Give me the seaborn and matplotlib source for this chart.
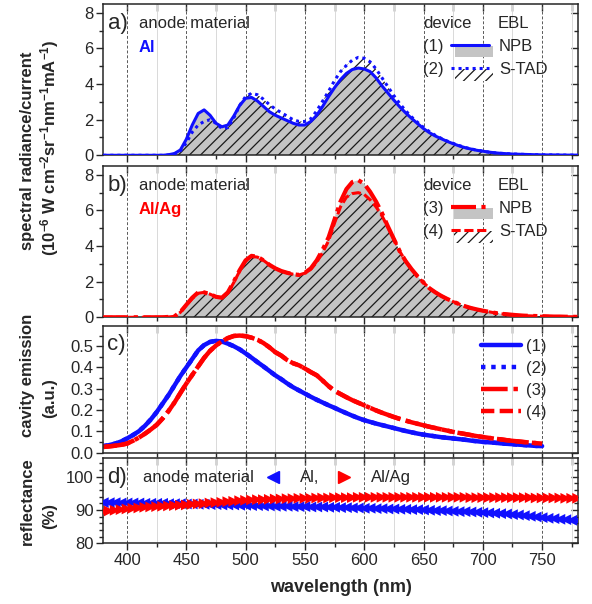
import numpy as np
import seaborn as sns
import matplotlib.pyplot as plt
from matplotlib.legend_handler import HandlerBase
from matplotlib.lines import Line2D
from matplotlib.patches import Rectangle
from matplotlib.ticker import MultipleLocator

sns.set_theme(style='ticks')
plt.rcParams['font.family'] = ['Liberation Sans', 'DejaVu Sans']
plt.rcParams['mathtext.default'] = 'regular'
plt.rcParams['hatch.linewidth'] = 0.9

# spectra, 380..780 nm in 5 nm steps
wl = np.arange(380, 781, 5)
zeros_head = [0.0] * 11  # 380-430 nm

spec_1 = zeros_head + [
    0.03, 0.1, 0.3, 0.9, 1.7, 2.35, 2.55, 2.25, 1.8, 1.6,
    1.7, 2.2, 2.8, 3.2, 3.25, 3.05, 2.75, 2.45, 2.25, 2.1,
    1.95, 1.8, 1.7, 1.7, 1.9, 2.25, 2.75, 3.3, 3.8, 4.25,
    4.6, 4.82, 4.9, 4.85, 4.7, 4.35, 3.9, 3.5, 3.1, 2.72,
    2.38, 2.07, 1.78, 1.5, 1.27, 1.08, 0.93, 0.78, 0.65, 0.53,
    0.43, 0.35, 0.28, 0.23, 0.18, 0.14, 0.11, 0.09, 0.07, 0.06,
    0.05, 0.04, 0.03, 0.025, 0.02, 0.02, 0.015, 0.01, 0.01, 0.01]
spec_2 = zeros_head + [
    0.02, 0.07, 0.25, 0.7, 1.3, 1.7, 1.9, 2.0, 1.8, 1.5,
    1.55, 2.1, 2.8, 3.3, 3.48, 3.4, 3.15, 2.85, 2.6, 2.4,
    2.2, 2.0, 1.9, 1.9, 2.05, 2.5, 3.05, 3.6, 4.2, 4.7,
    5.05, 5.35, 5.5, 5.45, 5.25, 4.85, 4.35, 3.85, 3.35, 2.9,
    2.5, 2.15, 1.85, 1.57, 1.33, 1.12, 0.95, 0.8, 0.67, 0.55,
    0.44, 0.36, 0.29, 0.23, 0.18, 0.14, 0.11, 0.09, 0.07, 0.06,
    0.05, 0.04, 0.03, 0.025, 0.02, 0.02, 0.015, 0.01, 0.01, 0.01]
spec_3 = zeros_head + [
    0.02, 0.05, 0.3, 0.7, 1.1, 1.4, 1.4, 1.3, 1.15, 1.1,
    1.4, 2.0, 2.65, 3.2, 3.45, 3.4, 3.2, 2.95, 2.75, 2.6,
    2.5, 2.42, 2.38, 2.5, 2.75, 3.2, 3.8, 4.5, 5.5, 6.5,
    7.2, 7.6, 7.7, 7.5, 7.05, 6.5, 5.85, 5.1, 4.4, 3.7,
    3.15, 2.7, 2.3, 1.95, 1.63, 1.4, 1.2, 1.03, 0.88, 0.74,
    0.62, 0.52, 0.44, 0.37, 0.31, 0.25, 0.2, 0.17, 0.14, 0.11,
    0.09, 0.08, 0.07, 0.06, 0.05, 0.04, 0.04, 0.03, 0.03, 0.02]
spec_4 = zeros_head + [
    0.02, 0.05, 0.28, 0.68, 1.05, 1.35, 1.4, 1.3, 1.15, 1.08,
    1.35, 1.95, 2.6, 3.15, 3.42, 3.38, 3.2, 2.95, 2.75, 2.6,
    2.5, 2.42, 2.38, 2.48, 2.7, 3.1, 3.65, 4.3, 5.3, 6.2,
    6.75, 6.95, 7.0, 6.9, 6.6, 6.2, 5.7, 5.05, 4.4, 3.7,
    3.15, 2.7, 2.3, 1.95, 1.63, 1.4, 1.2, 1.03, 0.88, 0.74,
    0.62, 0.52, 0.44, 0.37, 0.31, 0.25, 0.2, 0.17, 0.14, 0.11,
    0.09, 0.08, 0.07, 0.06, 0.05, 0.04, 0.04, 0.03, 0.03, 0.02]

# cavity emission, 380..750 nm
wl_cav = np.arange(380, 751, 5)
cav_al = [
    0.030, 0.035, 0.042, 0.052, 0.066, 0.082, 0.100, 0.125, 0.155, 0.190,
    0.230, 0.270, 0.315, 0.360, 0.400, 0.440, 0.480, 0.505, 0.520, 0.525,
    0.522, 0.512, 0.500, 0.485, 0.466, 0.446, 0.425, 0.405, 0.384, 0.363,
    0.345, 0.325, 0.307, 0.292, 0.277, 0.262, 0.248, 0.235, 0.222, 0.210,
    0.197, 0.185, 0.173, 0.162, 0.152, 0.144, 0.136, 0.129, 0.122, 0.115,
    0.108, 0.101, 0.095, 0.089, 0.084, 0.080, 0.076, 0.072, 0.069, 0.066,
    0.063, 0.060, 0.056, 0.053, 0.050, 0.048, 0.046, 0.043, 0.041, 0.039,
    0.037, 0.035, 0.033, 0.031, 0.030]
cav_alag = [
    0.026, 0.029, 0.032, 0.036, 0.042, 0.055, 0.070, 0.088, 0.108, 0.130,
    0.160, 0.195, 0.235, 0.280, 0.324, 0.365, 0.405, 0.445, 0.478, 0.503,
    0.523, 0.538, 0.548, 0.550, 0.547, 0.540, 0.530, 0.515, 0.495, 0.472,
    0.456, 0.435, 0.420, 0.410, 0.395, 0.378, 0.363, 0.338, 0.312, 0.290,
    0.275, 0.260, 0.246, 0.234, 0.222, 0.210, 0.198, 0.187, 0.177, 0.167,
    0.158, 0.150, 0.142, 0.135, 0.128, 0.121, 0.115, 0.109, 0.103, 0.097,
    0.092, 0.087, 0.082, 0.077, 0.073, 0.069, 0.065, 0.062, 0.058, 0.055,
    0.052, 0.049, 0.047, 0.044, 0.042]

# reflectance, 380..780 nm
refl_al = [
    92.2, 92.2, 92.2, 92.1, 92.1, 92.1, 92.1, 92.0, 92.0, 92.0,
    92.0, 91.9, 91.9, 91.9, 91.8, 91.8, 91.7, 91.7, 91.6, 91.6,
    91.5, 91.5, 91.5, 91.4, 91.4, 91.3, 91.3, 91.2, 91.2, 91.1,
    91.1, 91.1, 91.0, 91.0, 91.0, 90.9, 90.9, 90.9, 90.8, 90.8,
    90.7, 90.7, 90.6, 90.6, 90.5, 90.5, 90.4, 90.4, 90.3, 90.3,
    90.2, 90.2, 90.1, 90.1, 90.0, 89.9, 89.8, 89.8, 89.7, 89.6,
    89.5, 89.5, 89.4, 89.3, 89.2, 89.1, 89.0, 88.9, 88.8, 88.6,
    88.5, 88.3, 88.1, 87.9, 87.7, 87.5, 87.4, 87.2, 87.1, 86.9,
    86.8]
refl_alag = [
    89.5, 89.7, 89.9, 90.1, 90.3, 90.5, 90.6, 90.8, 90.9, 91.0,
    91.1, 91.2, 91.3, 91.4, 91.5, 91.7, 91.8, 91.9, 92.1, 92.2,
    92.3, 92.5, 92.6, 92.8, 92.9, 93.0, 93.1, 93.1, 93.2, 93.3,
    93.3, 93.4, 93.4, 93.5, 93.5, 93.5, 93.6, 93.6, 93.6, 93.7,
    93.7, 93.7, 93.7, 93.8, 93.8, 93.8, 93.8, 93.8, 93.8, 93.8,
    93.8, 93.8, 93.8, 93.8, 93.8, 93.8, 93.8, 93.8, 93.8, 93.8,
    93.8, 93.8, 93.7, 93.7, 93.7, 93.7, 93.7, 93.7, 93.7, 93.7,
    93.7, 93.7, 93.7, 93.6, 93.6, 93.6, 93.6, 93.6, 93.5, 93.5,
    93.5]

BLUE = '#1010ff'
RED = '#ff0000'
GRAY = '#c4c4c4'
st1 = dict(color=BLUE, lw=2.2, linestyle='-')
st2 = dict(color=BLUE, lw=2.2, linestyle=(0, (1, 1.3)))
st3 = dict(color=RED, lw=3.0, linestyle=(0, (6, 1.3, 1, 1.3)))
st4 = dict(color=RED, lw=2.2, linestyle=(0, (3, 1.2)))
fill_npb = dict(facecolor=GRAY, edgecolor='none')
fill_stad = dict(facecolor='white', edgecolor='0.1', hatch='///')


class LinePatchHandler(HandlerBase):
    # legend key: line on top, fill swatch offset below it
    def create_artists(self, legend, orig_handle, xdescent, ydescent,
                       width, height, fontsize, trans):
        line_st, patch_st = orig_handle
        yc = height / 2 - ydescent
        x0 = -xdescent
        rect = Rectangle((x0 + 0.1 * width, yc - height * 1.05), width, height,
                         lw=0, transform=trans, **patch_st)
        ln = Line2D([x0, x0 + width], [yc, yc], transform=trans, **line_st)
        return [rect, ln]


def frame(ax, ymaj, ymin):
    ax.set_xlim(380, 780)
    ax.xaxis.set_major_locator(MultipleLocator(50))
    ax.xaxis.set_minor_locator(MultipleLocator(25))
    ax.yaxis.set_major_locator(MultipleLocator(ymaj))
    ax.yaxis.set_minor_locator(MultipleLocator(ymin))
    ax.tick_params(which='both', direction='out', top=False, right=False,
                   labelsize=12, color='0.15', width=1, pad=2)
    ax.tick_params(which='major', length=5)
    ax.tick_params(which='minor', length=3)
    ax.grid(axis='x', which='major', ls=(0, (3, 2)), color='0.35', lw=0.7)
    ax.grid(axis='x', which='minor', ls='-', color='0.85', lw=0.7)
    ax.set_axisbelow(True)
    for s in ax.spines.values():
        s.set_color('0.15')
        s.set_linewidth(1.1)
    sx = ax.secondary_xaxis('top')
    sx.xaxis.set_major_locator(MultipleLocator(50))
    sx.xaxis.set_minor_locator(MultipleLocator(25))
    sx.tick_params(which='both', direction='in', labeltop=False, length=5,
                   color='0.15', width=1)
    sy = ax.secondary_yaxis('right')
    sy.yaxis.set_major_locator(MultipleLocator(ymaj))
    sy.yaxis.set_minor_locator(MultipleLocator(ymin))
    sy.tick_params(which='both', direction='in', labelright=False,
                   color='0.15', width=1)
    sy.tick_params(which='major', length=5)
    sy.tick_params(which='minor', length=3)
    for s in list(sx.spines.values()) + list(sy.spines.values()):
        s.set_visible(False)


fig = plt.figure(figsize=(5.92, 6.04), dpi=100)
L, W = 0.1745, 0.8013
ax_a = fig.add_axes([L, 0.7429, W, 0.2505])
ax_b = fig.add_axes([L, 0.4747, W, 0.2505])
ax_c = fig.add_axes([L, 0.2508, W, 0.2095])
ax_d = fig.add_axes([L, 0.1005, W, 0.1407])

blank = Line2D([], [], color='none')


def spectra_panel(ax, sa, sb, sta, stb, letter, anode, acol, tags, draw_b_first):
    ax.fill_between(wl, sa, 0, lw=0, zorder=1, **fill_npb)
    ax.fill_between(wl, sb, 0, facecolor='none', edgecolor='0.1', hatch='///',
                    lw=0, zorder=2)
    order = [(sb, stb), (sa, sta)] if draw_b_first else [(sa, sta), (sb, stb)]
    for s, st in order:
        sns.lineplot(x=wl, y=s, ax=ax, zorder=3, **st)
    ax.set_ylim(0, 8.5)
    frame(ax, 2, 1)
    ax.set_xticklabels([])
    ax.set_xlabel('')
    ax.set_ylabel('')
    ax.text(0.01, 0.868, letter, transform=ax.transAxes, fontsize=16, va='center')
    ax.text(0.075, 0.868, 'anode material', transform=ax.transAxes, fontsize=12,
            va='center')
    ax.text(0.075, 0.71, anode, transform=ax.transAxes, fontsize=12, va='center',
            color=acol, fontweight='bold')
    ax.text(0.674, 0.868, 'device', transform=ax.transAxes, fontsize=12, va='center')
    ax.text(0.832, 0.868, 'EBL', transform=ax.transAxes, fontsize=12, va='center')
    ax.legend([blank, blank, (sta, fill_npb), (stb, fill_stad)],
              [tags[0], tags[1], 'NPB', 'S-TAD'], ncol=2,
              handler_map={tuple: LinePatchHandler()}, loc='upper left',
              bbox_to_anchor=(0.573, 0.77), frameon=False, fontsize=12,
              handlelength=2.3, handletextpad=0.6, columnspacing=0.4,
              borderpad=0, borderaxespad=0, labelspacing=0.5)


spectra_panel(ax_a, spec_1, spec_2, st1, st2, 'a)', 'Al', BLUE, ['(1)', '(2)'], False)
spectra_panel(ax_b, spec_3, spec_4, st3, st4, 'b)', 'Al/Ag', RED, ['(3)', '(4)'], True)

# c) cavity emission
cav_sets = [(cav_al, st1, '(1)'), (cav_al, st2, '(2)'),
            (cav_alag, st4, '(4)'), (cav_alag, st3, '(3)')]
handles = {}
for y, st, lab in cav_sets:
    stc = dict(st)
    stc['lw'] = 3.2
    sns.lineplot(x=wl_cav, y=y, ax=ax_c, **stc)
    handles[lab] = Line2D([], [], **stc)
ax_c.set_ylim(0, 0.595)
frame(ax_c, 0.1, 0.05)
ax_c.yaxis.set_major_formatter(plt.FormatStrFormatter('%.1f'))
ax_c.set_xticklabels([])
ax_c.set_xlabel('')
ax_c.text(0.008, 0.85, 'c)', transform=ax_c.transAxes, fontsize=16, va='center')
labs = ['(1)', '(2)', '(3)', '(4)']
ax_c.legend([handles[k] for k in labs], labs, loc='upper right',
            bbox_to_anchor=(0.935, 0.9), frameon=False, fontsize=12,
            handlelength=2.4, handletextpad=0.3, borderpad=0, borderaxespad=0,
            labelspacing=0.42)

# d) reflectance
sns.scatterplot(x=wl, y=refl_al, ax=ax_d, marker='<', s=60, color=BLUE,
                edgecolor='none', zorder=3)
sns.scatterplot(x=wl, y=refl_alag, ax=ax_d, marker='>', s=60, color=RED,
                edgecolor='none', zorder=4)
ax_d.set_ylim(80, 105.5)
frame(ax_d, 10, 2)
ax_d.set_xlabel('wavelength (nm)', fontsize=13, fontweight='bold', labelpad=8)
ax_d.text(0.008, 0.77, 'd)', transform=ax_d.transAxes, fontsize=16, va='center')
ax_d.text(0.084, 0.77, 'anode material', transform=ax_d.transAxes, fontsize=12,
          va='center')
mk_al = Line2D([], [], marker='<', color=BLUE, ls='none', markersize=8)
mk_ag = Line2D([], [], marker='>', color=RED, ls='none', markersize=8)
ax_d.legend([mk_al, mk_ag], ['Al,', 'Al/Ag'], ncol=2, loc='center left',
            bbox_to_anchor=(0.34, 0.77), frameon=False, fontsize=12,
            handlelength=1.0, handletextpad=1.1, columnspacing=1.0,
            borderpad=0, borderaxespad=0)

# y labels
yk = dict(rotation=90, ha='center', va='center', fontsize=12, fontweight='bold')
fig.text(0.046, 0.75, 'spectral radiance/current', **yk)
fig.text(0.083, 0.755, r'(10$^{-6}$ W cm$^{-2}$sr$^{-1}$nm$^{-1}$mA$^{-1}$)', **yk)
fig.text(0.046, 0.379, 'cavity emission', **yk)
fig.text(0.083, 0.341, '(a.u.)', **yk)
fig.text(0.046, 0.17, 'reflectance', **yk)
fig.text(0.083, 0.146, '(%)', **yk)

fig.savefig('out.png', dpi=100)
